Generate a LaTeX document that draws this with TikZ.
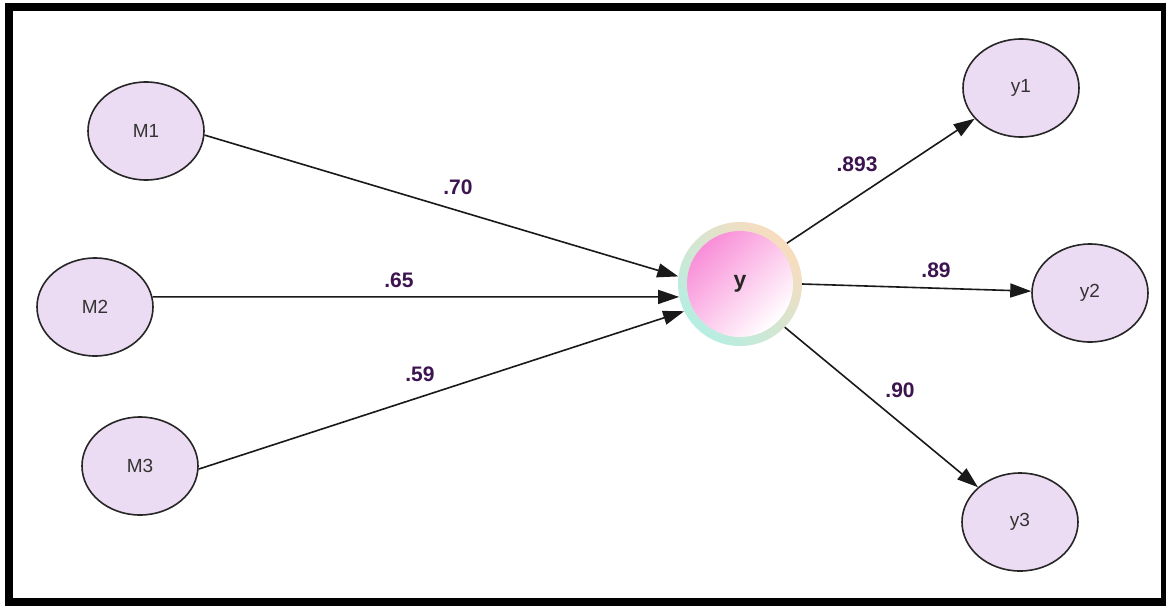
\documentclass[tikz,border=0pt]{standalone}
\usepackage{fontspec}
\setmainfont{Liberation Sans}
\usetikzlibrary{shapes.geometric,arrows.meta}
\definecolor{lav}{HTML}{ECDCF3}
\definecolor{lbl}{HTML}{3B1450}
\definecolor{txt}{HTML}{333333}
\definecolor{peach}{HTML}{F9DCBE}
\definecolor{mint}{HTML}{B5EEE2}
\definecolor{pinkc}{HTML}{F98ED8}
\definecolor{pinkm}{HTML}{F8B0E6}
\tikzset{
  latent/.style={ellipse, draw=black!85, line width=1.6pt, fill=lav,
    minimum width=116pt, minimum height=98pt, inner sep=0pt,
    font=\fontsize{19}{22}\selectfont, text=txt},
  path/.style={line width=1.6pt, draw=black!90,
    -{Triangle[length=21pt,width=14pt]}},
  coef/.style={font=\bfseries\fontsize{21}{24}\selectfont, text=lbl}
}
\begin{document}
\begin{tikzpicture}[x=1pt,y=-1pt]
\useasboundingbox (0,0) rectangle (1166,605);
\fill[white] (0,0) rectangle (1166,605);
\draw[line width=8pt] (9,7) rectangle (1165,602);

% central construct
\shade[top color=peach, bottom color=mint, shading angle=-45]
  (740,284) circle[radius=62];
\shade[top color=pinkc, middle color=pinkm, bottom color=white, shading angle=45]
  (740,284) circle[radius=53];
\node[circle, minimum size=124pt, inner sep=0pt,
  font=\bfseries\fontsize{23}{26}\selectfont, text=black!85] (y) at (740,284) {y};

\node[latent] (M1) at (146,131) {M1};
\node[latent] (M2) at (95,307) {M2};
\node[latent] (M3) at (140,466) {M3};
\node[latent] (y1) at (1021,88) {y1};
\node[latent] (y2) at (1090,293) {y2};
\node[latent] (y3) at (1020,522) {y3};

\draw[path] (M1.-4) -- (y.173);
\draw[path] (M2.10) -- (y.192);
\draw[path] (M3.-3) -- (y.206);
\draw[path] (y.41) -- (y1);
\draw[path] (y.0) -- (y2);
\draw[path] (y.-44) -- (y3);

\node[coef] (c1) at (458,187) {.70};
\node[coef] (c2) at (399,280) {.65};
\node[coef] (c3) at (420,374) {.59};
\node[coef] (c4) at (857,164) {.893};
\node[coef] (c5) at (936,270) {.89};
\node[coef] (c6) at (900,390) {.90};
\end{tikzpicture}
\end{document}
